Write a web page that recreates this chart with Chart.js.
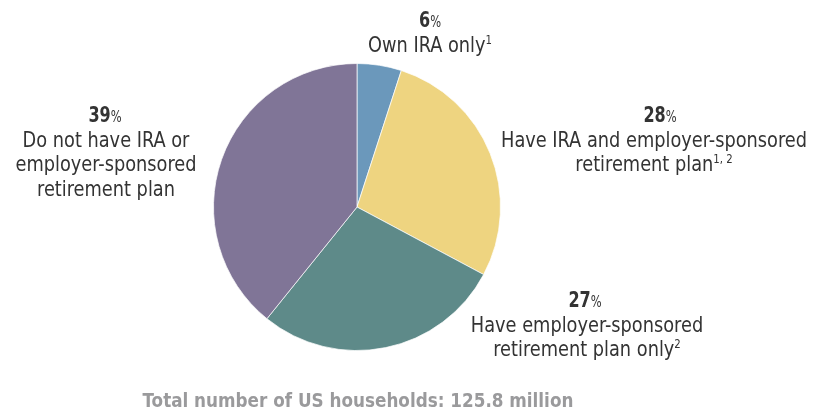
<!DOCTYPE html>
<html>
<head>
<meta charset="utf-8">
<script src="https://cdn.jsdelivr.net/npm/chart.js@4"></script>
<style>
  html, body { margin: 0; padding: 0; background: #fff; }
  #wrap { width: 823px; height: 419px; }
</style>
</head>
<body>
<div id="wrap"><canvas id="pieChart" width="823" height="419"></canvas></div>
<script>
// slice shares as drawn in the picture, and the printed percentages
const categories = [
    "Own IRA only",
    "Have IRA and employer-sponsored retirement plan",
    "Have employer-sponsored retirement plan only",
    "Do not have IRA or employer-sponsored retirement plan"
];
const shares = [5.0, 27.8, 28.0, 39.2];
const percentText = ["6", "28", "27", "39"];
const footnotes = ["1", "1, 2", "2", ""];
const colors = ["#6b98bb", "#eed480", "#5e8a89", "#807597"];
const totalText = "Total number of US households: 125.8 million";

const FONT = '"DejaVu Sans Condensed", "DejaVu Sans", sans-serif';
const TEXT = "#333333";

// label blocks: centre x, first baseline, lines of text for the category
const blocks = [
    { x: 430, px: 430, y: 27, lines: ["Own IRA only"] },
    { x: 654, px: 660, y: 122, lines: ["Have IRA and employer-sponsored", "retirement plan"] },
    { x: 587, px: 585, y: 307, lines: ["Have employer-sponsored", "retirement plan only"] },
    { x: 106, px: 105, y: 122, lines: ["Do not have IRA or", "employer-sponsored", "retirement plan"] }
];

// draws centred text segments, squeezed horizontally by sx
function drawLine(ctx, cx, y, segs, sx) {
    let w = 0;
    segs.forEach(s => { ctx.font = s.font; w += ctx.measureText(s.text).width; });
    ctx.save();
    ctx.translate(cx, y);
    ctx.scale(sx, 1);
    let x = -w / 2;
    segs.forEach(s => {
        ctx.font = s.font;
        ctx.fillStyle = s.color || TEXT;
        ctx.fillText(s.text, x, s.dy || 0);
        x += ctx.measureText(s.text).width;
    });
    ctx.restore();
}

const labelPlugin = {
    id: "pieLabels",
    afterDraw(chart) {
        const ctx = chart.ctx;
        ctx.save();
        ctx.textAlign = "left";
        ctx.textBaseline = "alphabetic";
        const lh = 24.5;
        const sx = 0.94;
        blocks.forEach((b, i) => {
            drawLine(ctx, b.px, b.y, [
                { text: percentText[i], font: "bold 21px " + FONT },
                { text: "%", font: "15px " + FONT }
            ], 0.85);
            b.lines.forEach((line, j) => {
                const segs = [{ text: line, font: "21px " + FONT }];
                if (j === b.lines.length - 1 && footnotes[i]) {
                    segs.push({ text: footnotes[i], font: "12px " + FONT, dy: -8 });
                }
                drawLine(ctx, b.x, b.y + lh * (j + 1), segs, sx);
            });
        });
        drawLine(ctx, 358, 407, [
            { text: totalText, font: "bold 18.7px " + FONT, color: "#9a9a9c" }
        ], 1);
        ctx.restore();
    }
};

new Chart(document.getElementById("pieChart"), {
    type: "pie",
    data: {
        labels: categories,
        datasets: [{
            data: shares,
            backgroundColor: colors,
            borderColor: "rgba(255,255,255,0.7)",
            borderWidth: 1
        }]
    },
    options: {
        responsive: false,
        animation: false,
        layout: {
            padding: { top: 63, bottom: 68, left: 213, right: 322 }
        },
        plugins: {
            legend: { display: false },
            tooltip: { enabled: false }
        }
    },
    plugins: [labelPlugin]
});
</script>
</body>
</html>
